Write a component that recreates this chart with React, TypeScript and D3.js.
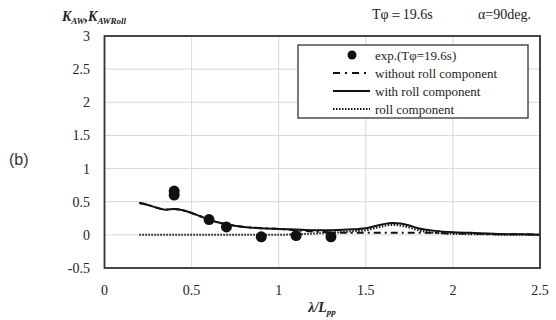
import React, { useEffect, useRef } from 'react';
import * as d3 from 'd3';

// wave length ratio (lambda / Lpp) for the calculated curves
const lambdas = [0.2, 0.25, 0.3, 0.35, 0.4, 0.45, 0.5, 0.55, 0.6, 0.65, 0.7, 0.8, 0.9, 1.0, 1.1, 1.2, 1.3, 1.4, 1.5, 1.55, 1.6, 1.65, 1.7, 1.75, 1.8, 1.9, 2.0, 2.1, 2.2, 2.3, 2.4, 2.5];
const withRoll = [0.48, 0.45, 0.41, 0.38, 0.39, 0.37, 0.33, 0.28, 0.23, 0.19, 0.16, 0.12, 0.1, 0.09, 0.08, 0.07, 0.07, 0.08, 0.1, 0.13, 0.16, 0.18, 0.17, 0.14, 0.1, 0.06, 0.04, 0.03, 0.02, 0.01, 0.01, 0.0];
const withoutRoll = [0.48, 0.45, 0.41, 0.38, 0.39, 0.37, 0.33, 0.28, 0.23, 0.19, 0.16, 0.12, 0.1, 0.09, 0.07, 0.05, 0.04, 0.03, 0.03, 0.03, 0.03, 0.03, 0.03, 0.03, 0.03, 0.03, 0.02, 0.02, 0.01, 0.01, 0.01, 0.0];
const rollOnly = [0, 0, 0, 0, 0, 0, 0, 0, 0, 0, 0, 0, 0, 0, 0.01, 0.02, 0.03, 0.05, 0.07, 0.1, 0.13, 0.15, 0.14, 0.11, 0.07, 0.03, 0.02, 0.01, 0.01, 0, 0, 0];

// experiment
const expX = [0.4, 0.4, 0.6, 0.7, 0.9, 1.1, 1.3];
const expY = [0.66, 0.6, 0.23, 0.12, -0.03, -0.01, -0.03];

const xTicks = [0, 0.5, 1, 1.5, 2, 2.5];
const yTicks = [-0.5, 0, 0.5, 1, 1.5, 2, 2.5, 3];

const W = 556;
const H = 320;
const serif = '"Liberation Serif", "DejaVu Serif", "Times New Roman", serif';

export default function App() {
  const ref = useRef<SVGSVGElement>(null);

  useEffect(() => {
    const svg = d3.select(ref.current);
    svg.selectAll('*').remove();

    const left = 104.5, right = 540, top = 36, bottom = 268;
    const x = d3.scaleLinear().domain([0, 2.5]).range([left, right]);
    const y = d3.scaleLinear().domain([-0.5, 3]).range([bottom, top]);

    svg.append('rect').attr('width', W).attr('height', H).attr('fill', '#fff');

    // grid
    const grid = svg.append('g');
    yTicks.forEach(t => {
      grid.append('line')
        .attr('x1', left).attr('x2', right)
        .attr('y1', y(t)).attr('y2', y(t))
        .attr('stroke', '#d9d9d9').attr('stroke-width', 1);
    });
    xTicks.forEach(t => {
      grid.append('line')
        .attr('x1', x(t)).attr('x2', x(t))
        .attr('y1', top).attr('y2', bottom)
        .attr('stroke', '#d9d9d9').attr('stroke-width', 1);
    });

    // tick labels
    svg.append('g').selectAll('text').data(yTicks).enter().append('text')
      .attr('x', 90).attr('y', d => y(d) + 5)
      .attr('text-anchor', 'end')
      .attr('font-family', serif).attr('font-size', 14).attr('fill', '#222')
      .text(d => String(d));
    svg.append('g').selectAll('text').data(xTicks).enter().append('text')
      .attr('x', d => x(d)).attr('y', 295)
      .attr('text-anchor', 'middle')
      .attr('font-family', serif).attr('font-size', 14).attr('fill', '#222')
      .text(d => String(d));

    const pts = (vals: number[]) => lambdas.map((l, i) => [l, vals[i]] as [number, number]);
    const line = d3.line<[number, number]>().x(d => x(d[0])).y(d => y(d[1])).curve(d3.curveMonotoneX);

    svg.append('path').attr('d', line(pts(rollOnly)))
      .attr('fill', 'none').attr('stroke', '#111').attr('stroke-width', 2).attr('stroke-dasharray', '1.5,1.5');
    svg.append('path').attr('d', line(pts(withoutRoll)))
      .attr('fill', 'none').attr('stroke', '#111').attr('stroke-width', 2).attr('stroke-dasharray', '7,4,2,4');
    svg.append('path').attr('d', line(pts(withRoll)))
      .attr('fill', 'none').attr('stroke', '#111').attr('stroke-width', 2);

    svg.append('g').selectAll('circle').data(expX).enter().append('circle')
      .attr('cx', d => x(d)).attr('cy', (d, i) => y(expY[i]))
      .attr('r', 5.5).attr('fill', '#111');

    // frame
    svg.append('rect')
      .attr('x', left).attr('y', top).attr('width', right - left).attr('height', bottom - top)
      .attr('fill', 'none').attr('stroke', '#333').attr('stroke-width', 1.8);

    // legend
    const lg = svg.append('g');
    lg.append('rect').attr('x', 298).attr('y', 45).attr('width', 230).attr('height', 73)
      .attr('fill', '#fff').attr('stroke', '#333').attr('stroke-width', 1.3);
    const rows = [
      { label: 'exp.(Tφ=19.6s)', kind: 'dot' },
      { label: 'without roll component', kind: 'dashdot' },
      { label: 'with roll component', kind: 'solid' },
      { label: 'roll component', kind: 'dot2' },
    ];
    rows.forEach((r, i) => {
      const cy = 55 + i * 18;
      if (r.kind === 'dot') {
        lg.append('circle').attr('cx', 352).attr('cy', cy).attr('r', 4.5).attr('fill', '#111');
      } else {
        const dash = r.kind === 'dashdot' ? '7,5,2,5' : r.kind === 'dot2' ? '1.5,1.5' : null;
        lg.append('line').attr('x1', 333).attr('x2', 370).attr('y1', cy).attr('y2', cy)
          .attr('stroke', '#111').attr('stroke-width', 2)
          .attr('stroke-dasharray', dash);
      }
      lg.append('text').attr('x', 375).attr('y', cy + 4.5)
        .attr('font-family', serif).attr('font-size', 13).attr('fill', '#222')
        .text(r.label);
    });

    // titles
    const t1 = svg.append('text').attr('x', 62).attr('y', 21)
      .attr('font-family', serif).attr('font-size', 14).attr('font-weight', 'bold')
      .attr('font-style', 'italic').attr('fill', '#222');
    t1.append('tspan').text('K');
    t1.append('tspan').attr('font-size', 9).attr('dy', 3).text('AW');
    t1.append('tspan').attr('dy', -3).text(',K');
    t1.append('tspan').attr('font-size', 9).attr('dy', 3).text('AWRoll');

    svg.append('text').attr('x', 372).attr('y', 19)
      .attr('font-family', serif).attr('font-size', 14).attr('fill', '#222')
      .text('Tφ＝19.6s');
    svg.append('text').attr('x', 478).attr('y', 19)
      .attr('font-family', serif).attr('font-size', 14).attr('fill', '#222')
      .text('α=90deg.');

    const xl = svg.append('text').attr('x', 322).attr('y', 312).attr('text-anchor', 'middle')
      .attr('font-family', serif).attr('font-size', 14).attr('font-weight', 'bold')
      .attr('font-style', 'italic').attr('fill', '#222');
    xl.append('tspan').text('λ/L');
    xl.append('tspan').attr('font-size', 9).attr('dy', 3).text('pp');

    svg.append('text').attr('x', 9).attr('y', 165)
      .attr('font-family', '"Liberation Sans", Arial, sans-serif').attr('font-size', 16).attr('fill', '#333')
      .text('(b)');
  }, []);

  return (
    <svg ref={ref} width={W} height={H}
      style={{ position: 'absolute', top: 0, left: 0, display: 'block' }} />
  );
}
